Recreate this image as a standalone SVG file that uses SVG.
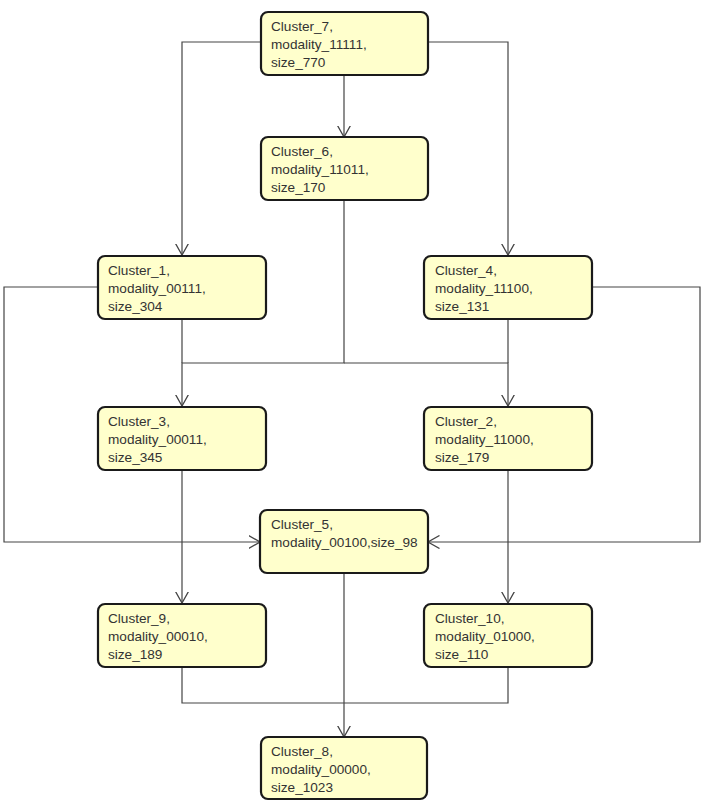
<svg xmlns="http://www.w3.org/2000/svg" width="708" height="808" viewBox="0 0 708 808">
<style>
.box{fill:#ffffcc;stroke:#1a1a1a;stroke-width:2.2}
.t{font-family:"Liberation Sans",Arial,sans-serif;font-size:13.6px;fill:#333}
.c{fill:none;stroke:#444;stroke-width:1.2}
</style>
<defs>
<marker id="a" viewBox="0 0 12 14" refX="11.5" refY="7" markerWidth="12" markerHeight="14" markerUnits="userSpaceOnUse" orient="auto">
<path d="M0,0.5 L11.5,7 L0,13.5" fill="none" stroke="#444" stroke-width="1.3"/>
</marker>
</defs>
<rect width="708" height="808" fill="#fff"/>
<g id="connectors">
<path class="c" d="M261,42 H182 V255" marker-end="url(#a)"/>
<path class="c" d="M428,42 H508 V255" marker-end="url(#a)"/>
<path class="c" d="M344,75 V137" marker-end="url(#a)"/>
<path class="c" d="M344,200 V363 H182 V406" marker-end="url(#a)"/>
<path class="c" d="M344,363 H508 V406" marker-end="url(#a)"/>
<path class="c" d="M182,319 V363"/>
<path class="c" d="M508,319 V363"/>
<path class="c" d="M98,287 H4 V542 H260" marker-end="url(#a)"/>
<path class="c" d="M592,287 H700 V542 H428" marker-end="url(#a)"/>
<path class="c" d="M182,470 V603" marker-end="url(#a)"/>
<path class="c" d="M508,470 V603" marker-end="url(#a)"/>
<path class="c" d="M344,573 V737" marker-end="url(#a)"/>
<path class="c" d="M182,667 V703 H508 V667"/>
</g>
<g id="cluster7"><rect class="box" x="261" y="12" width="167" height="63" rx="7"/>
<text class="t" x="271" y="31">Cluster_7,</text><text class="t" x="271" y="49">modality_11111,</text><text class="t" x="271" y="67">size_770</text></g>
<g id="cluster6"><rect class="box" x="261" y="137" width="167" height="63" rx="7"/>
<text class="t" x="271" y="156">Cluster_6,</text><text class="t" x="271" y="174">modality_11011,</text><text class="t" x="271" y="192">size_170</text></g>
<g id="cluster1"><rect class="box" x="98" y="256" width="168" height="63" rx="7"/>
<text class="t" x="108" y="275">Cluster_1,</text><text class="t" x="108" y="293">modality_00111,</text><text class="t" x="108" y="311">size_304</text></g>
<g id="cluster4"><rect class="box" x="424" y="256" width="168" height="63" rx="7"/>
<text class="t" x="435" y="275">Cluster_4,</text><text class="t" x="435" y="293">modality_11100,</text><text class="t" x="435" y="311">size_131</text></g>
<g id="cluster3"><rect class="box" x="98" y="407" width="168" height="63" rx="7"/>
<text class="t" x="108" y="426">Cluster_3,</text><text class="t" x="108" y="444">modality_00011,</text><text class="t" x="108" y="462">size_345</text></g>
<g id="cluster2"><rect class="box" x="424" y="407" width="168" height="63" rx="7"/>
<text class="t" x="435" y="426">Cluster_2,</text><text class="t" x="435" y="444">modality_11000,</text><text class="t" x="435" y="462">size_179</text></g>
<g id="cluster5"><rect class="box" x="260" y="510" width="168" height="63" rx="7"/>
<text class="t" x="271" y="529">Cluster_5,</text><text class="t" x="271" y="547">modality_00100,size_98</text></g>
<g id="cluster9"><rect class="box" x="98" y="604" width="168" height="63" rx="7"/>
<text class="t" x="108" y="623">Cluster_9,</text><text class="t" x="108" y="641">modality_00010,</text><text class="t" x="108" y="659">size_189</text></g>
<g id="cluster10"><rect class="box" x="424" y="604" width="168" height="63" rx="7"/>
<text class="t" x="435" y="623">Cluster_10,</text><text class="t" x="435" y="641">modality_01000,</text><text class="t" x="435" y="659">size_110</text></g>
<g id="cluster8"><rect class="box" x="261" y="737" width="166" height="62" rx="7"/>
<text class="t" x="271" y="756">Cluster_8,</text><text class="t" x="271" y="774">modality_00000,</text><text class="t" x="271" y="792">size_1023</text></g>
</svg>
